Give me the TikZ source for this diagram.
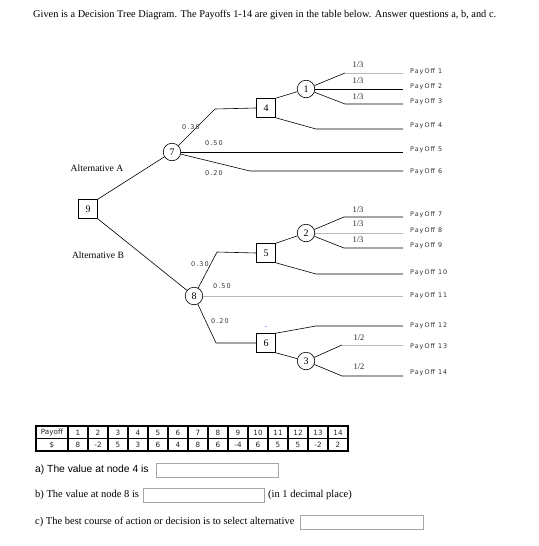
\documentclass[tikz,border=0pt]{standalone}
\usepackage{fontspec}
\setmainfont{Liberation Serif}
\newfontfamily\arialf{Liberation Sans}
\newfontfamily\smallsf[LetterSpace=16]{DejaVu Sans}
\newfontfamily\tabf{DejaVu Sans}
\begin{document}
\begin{tikzpicture}[x=1pt,y=-1pt,
  dsq/.style={draw,rectangle,minimum size=19pt,inner sep=0pt,line width=0.6pt,font=\fontsize{10}{10}\selectfont},
  chc/.style={draw,circle,minimum size=17.5pt,inner sep=0pt,line width=0.6pt,font=\fontsize{10}{10}\selectfont},
  br/.style={line width=0.6pt},
  brg/.style={line width=0.8pt,gray!55},
  prob/.style={font=\smallsf\fontsize{6.5}{6.5}\selectfont,text=black!80,inner sep=0pt},
  frac/.style={font=\fontsize{8.5}{8.5}\selectfont,text=black!85,inner sep=0pt},
  pay/.style={font=\smallsf\fontsize{6.4}{6.4}\selectfont,text=black!80,anchor=west,inner sep=0pt},
  alt/.style={font=\fontsize{9.6}{9.6}\selectfont,inner sep=0pt},
  cell/.style={font=\tabf\fontsize{7.2}{7.2}\selectfont,text=black!85,inner sep=0pt},
  ansbox/.style={draw=gray!70,line width=0.7pt,rectangle,inner sep=0pt,minimum height=14pt,anchor=north west},
  qtext/.style={font=\fontsize{10.5}{11}\selectfont,anchor=west,inner sep=0pt}
]
\useasboundingbox[fill=white] (0,0) rectangle (538,546);

% title
\node[qtext,font=\fontsize{10.35}{11}\selectfont] (title) at (33,15) {Given is a Decision Tree Diagram. The Payoffs 1-14 are given in the table below. Answer questions a, b, and c.};

% nodes
\node[dsq] (n9) at (88,209) {9};
\node[chc] (c7) at (172,152) {7};
\node[chc] (c8) at (194,296) {8};
\node[dsq] (n4) at (266,108) {4};
\node[dsq] (n5) at (266,253) {5};
\node[dsq] (n6) at (266,343) {6};
\node[chc] (c1) at (306,89) {1};
\node[chc] (c2) at (306,233) {2};
\node[chc] (c3) at (306,361) {3};

% bend and end coordinates
\coordinate (k7a) at (215,109);
\coordinate (k7c) at (250,171);
\coordinate (k8a) at (217,252);
\coordinate (k8c) at (216,343);
\coordinate (k1a) at (345,73);
\coordinate (k1c) at (345,104);
\coordinate (k4b) at (316,129);
\coordinate (k2a) at (344,217);
\coordinate (k2c) at (344,248);
\coordinate (k5b) at (316,274);
\coordinate (k6a) at (316,326);
\coordinate (k3a) at (342,345);
\coordinate (k3b) at (342,376);
\coordinate (e1) at (403,73);
\coordinate (e2) at (403,89);
\coordinate (e3) at (403,104);
\coordinate (e4) at (403,129);
\coordinate (e5) at (403,152);
\coordinate (e6) at (403,171);
\coordinate (e7) at (403,217);
\coordinate (e8) at (403,233);
\coordinate (e9) at (403,248);
\coordinate (e10) at (403,274);
\coordinate (e11) at (403,296);
\coordinate (e12) at (403,326);
\coordinate (e13) at (403,345);
\coordinate (e14) at (403,376);

% connectors
\draw[br] (n9.north east) -- (c7);
\draw[br] (n9.south east) -- (c8);
\draw[br] (c7) -- (k7a) -- (n4.west);
\draw[br] (c7.east) -- (e5);
\draw[br] (c7) -- (k7c) -- (e6);
\draw[br] (n4.north east) -- (c1);
\draw[br] (n4.south east) -- (k4b) -- (e4);
\draw[br] (c1) -- (k1a);
\draw[brg] (k1a) -- (e1);
\draw[br] (c1.east) -- (e2);
\draw[br] (c1) -- (k1c) -- (e3);
\draw[br] (c8) -- (k8a) -- (n5.west);
\draw[brg] (c8.east) -- (e11);
\draw[br] (c8) -- (k8c) -- (n6.west);
\draw[br] (n5.north east) -- (c2);
\draw[br] (n5.south east) -- (k5b) -- (e10);
\draw[br] (c2) -- (k2a) -- (e7);
\draw[brg] (c2.east) -- (e8);
\draw[br] (c2) -- (k2c) -- (e9);
\draw[br] (n6.north east) -- (k6a) -- (e12);
\draw[br] (n6.south east) -- (c3);
\draw[br] (c3) -- (k3a);
\draw[brg] (k3a) -- (e13);
\draw[br] (c3) -- (k3b) -- (e14);

% probability labels
\node[prob] (p7a) at (191,127) {0.30};
\node[prob] (p7b) at (214,143) {0.50};
\node[prob] (p7c) at (214,173) {0.20};
\node[prob] (p8a) at (200,264) {0.30};
\node[prob] (p8b) at (222,286) {0.50};
\node[prob] (p8c) at (220,321) {0.20};
\node[frac] (f1a) at (358,65) {1/3};
\node[frac] (f1b) at (358,81) {1/3};
\node[frac] (f1c) at (358,97) {1/3};
\node[frac] (f2a) at (358,210) {1/3};
\node[frac] (f2b) at (358,224) {1/3};
\node[frac] (f2c) at (358,240) {1/3};
\node[frac] (f3a) at (359,338) {1/2};
\node[frac] (f3b) at (359,367) {1/2};
\node[font=\fontsize{5}{5}\selectfont,text=blue!60!violet,inner sep=0pt] (mark) at (266,327) {\textasciitilde};

% alternatives
\node[alt] (altA) at (97,168) {Alternative A};
\node[alt] (altB) at (98,255) {Alternative B};

% payoff labels
\node[pay] (l1) at (410,72) {PayOff 1};
\node[pay] (l2) at (410,87) {PayOff 2};
\node[pay] (l3) at (410,102) {PayOff 3};
\node[pay] (l4) at (410,126) {PayOff 4};
\node[pay] (l5) at (410,150) {PayOff 5};
\node[pay] (l6) at (410,172) {PayOff 6};
\node[pay] (l7) at (410,215) {PayOff 7};
\node[pay] (l8) at (410,231) {PayOff 8};
\node[pay] (l9) at (410,246) {PayOff 9};
\node[pay] (l10) at (410,273) {PayOff 10};
\node[pay] (l11) at (410,296) {PayOff 11};
\node[pay] (l12) at (410,326) {PayOff 12};
\node[pay] (l13) at (410,347) {PayOff 13};
\node[pay] (l14) at (410,373) {PayOff 14};

% table
\draw[line width=1.3pt] (36,426) rectangle (348,451);
\draw[line width=1.3pt] (36,438.5) -- (348,438.5);
\foreach \i in {0,...,13} {
  \draw[line width=1.3pt] (68+\i*20,426) -- (68+\i*20,451);
}
\node[cell] (h0) at (52,432.5) {Payoff};
\node[cell] (v0) at (52,445) {\$};
\foreach \i/\v [count=\c] in {1/8,2/-2,3/5,4/3,5/6,6/4,7/8,8/6,9/-4,10/6,11/5,12/5,13/-2,14/2} {
  \node[cell] (h\c) at (68+\c*20-10,432.5) {\i};
  \node[cell] (v\c) at (68+\c*20-10,445) {\v};
}

% questions
\node[qtext,font=\arialf\fontsize{10.3}{11}\selectfont] (qa) at (35,470) {a) The value at node 4 is};
\node[ansbox,minimum width=122pt] (ba) at (156,463) {};
\node[qtext] (qb) at (35,495) {b) The value at node 8 is};
\node[ansbox,minimum width=121pt] (bb) at (143,488) {};
\node[qtext] (qb2) at (268,495) {(in 1 decimal place)};
\node[qtext] (qc) at (35,522) {c) The best course of action or decision is to select alternative};
\node[ansbox,minimum width=123pt] (bc) at (300,515) {};
\end{tikzpicture}
\end{document}
